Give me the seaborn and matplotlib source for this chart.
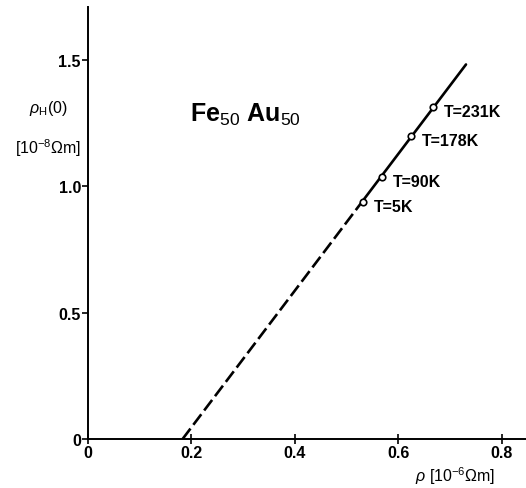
import matplotlib
matplotlib.use("Agg")
import matplotlib.pyplot as plt
import seaborn as sns
import pandas as pd

# measured points (rho, rho_H(0)) and their temperatures
rho = [0.532, 0.569, 0.624, 0.667]
rho_h = [0.938, 1.037, 1.198, 1.312]
temps = ["T=5K", "T=90K", "T=178K", "T=231K"]

# straight-line fit: extrapolated (dashed) part and measured (solid) part
fit_rho_dash = [0.183, 0.532]
fit_rhoh_dash = [0.0, 0.944]
fit_rho_solid = [0.532, 0.731]
fit_rhoh_solid = [0.944, 1.482]

x_ticks = [0, 0.2, 0.4, 0.6, 0.8]
x_ticklabels = ["0", "0.2", "0.4", "0.6", "0.8"]
y_ticks = [0, 0.5, 1.0, 1.5]
y_ticklabels = ["0", "0.5", "1.0", "1.5"]

sns.set_style("ticks")
plt.rcParams["font.family"] = ["Liberation Sans", "DejaVu Sans"]
plt.rcParams["mathtext.fontset"] = "custom"
plt.rcParams["mathtext.rm"] = "Liberation Sans"
plt.rcParams["mathtext.it"] = "Liberation Sans:italic"
plt.rcParams["mathtext.bf"] = "Liberation Sans:bold"
plt.rcParams["text.color"] = "black"
plt.rcParams["xtick.color"] = "black"
plt.rcParams["ytick.color"] = "black"
plt.rcParams["axes.edgecolor"] = "black"

fig = plt.figure(figsize=(5.26, 4.89), dpi=100)
ax = fig.add_axes([0.167, 0.100, 0.833, 0.884])

dash_df = pd.DataFrame({"rho": fit_rho_dash, "rhoh": fit_rhoh_dash})
solid_df = pd.DataFrame({"rho": fit_rho_solid, "rhoh": fit_rhoh_solid})
pts = pd.DataFrame({"rho": rho, "rhoh": rho_h, "T": temps})

sns.lineplot(data=dash_df, x="rho", y="rhoh", ax=ax, color="black",
             lw=1.9, dashes=False, linestyle=(0, (5, 1.8)))
sns.lineplot(data=solid_df, x="rho", y="rhoh", ax=ax, color="black", lw=1.9)
sns.scatterplot(data=pts, x="rho", y="rhoh", ax=ax, s=22, marker="o",
                facecolor="white", edgecolor="black", linewidth=1.2, zorder=5)

for _, r in pts.iterrows():
    ax.annotate(r["T"], (r["rho"], r["rhoh"]), xytext=(8, -3),
                textcoords="offset points", fontsize=11.5, fontweight="bold",
                va="center", ha="left")

ax.set_xlim(0, 0.847)
ax.set_ylim(0, 1.71)
ax.set_xticks(x_ticks)
ax.set_xticklabels(x_ticklabels, fontsize=11.5, fontweight="bold")
ax.set_yticks(y_ticks)
ax.set_yticklabels(y_ticklabels, fontsize=11.5, fontweight="bold")
ax.tick_params(axis="x", direction="inout", length=7, width=1.2, pad=1)
ax.tick_params(axis="y", direction="out", length=4, width=1.2, pad=1)
ax.set_xlabel("")
ax.set_ylabel("")
sns.despine(ax=ax)
for s in ["left", "bottom"]:
    ax.spines[s].set_linewidth(1.4)

fig.text(0.091, 0.779, r"$\rho_{\rm H}$(0)", fontsize=11.5, ha="center", va="center")
fig.text(0.091, 0.697, r"[10$^{-8}$$\Omega$m]", fontsize=11.5, ha="center", va="center")
fig.text(0.865, 0.026, r"$\rho$ [10$^{-6}$$\Omega$m]", fontsize=11.5, ha="center", va="center")
fig.text(0.361, 0.765, r"Fe$_{50}$ Au$_{50}$", fontsize=18, fontweight="bold",
         ha="left", va="center")

fig.savefig("out.png", dpi=100)
